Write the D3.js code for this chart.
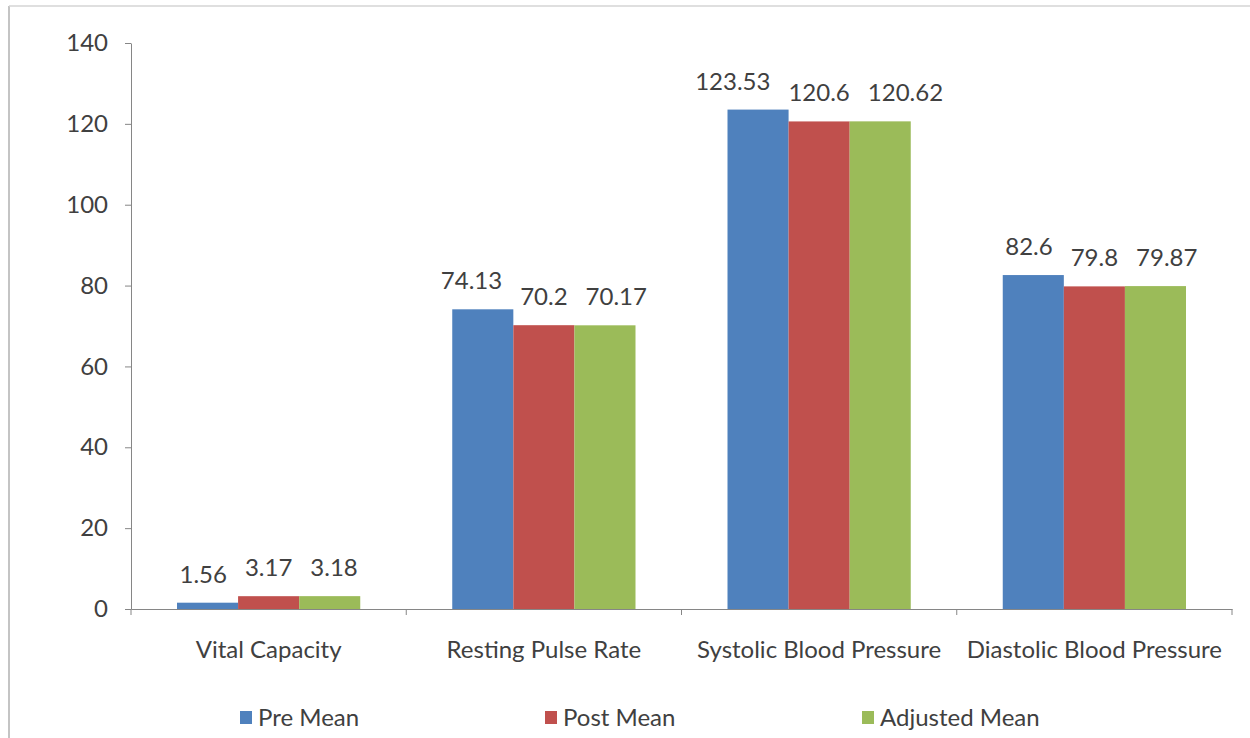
<!DOCTYPE html>
<html>
<head>
<meta charset="utf-8">
<script src="https://cdn.jsdelivr.net/npm/d3@7"></script>
<style>
  body { margin: 0; background: #fff; }
  text { font-family: Lato, "Open Sans", sans-serif; fill: #404040; }
</style>
</head>
<body>
<div id="plot"></div>
<script>
// data
const categories = ["Vital Capacity", "Resting Pulse Rate", "Systolic Blood Pressure", "Diastolic Blood Pressure"];
const seriesNames = ["Pre Mean", "Post Mean", "Adjusted Mean"];
const preMean = [1.56, 74.13, 123.53, 82.6];
const postMean = [3.17, 70.2, 120.6, 79.8];
const adjustedMean = [3.18, 70.17, 120.62, 79.87];
const yTicks = [0, 20, 40, 60, 80, 100, 120, 140];
const colors = ["#4F81BD", "#C0504D", "#9BBB59"];

const W = 1250, H = 738;
const margin = {top: 43, right: 18, bottom: 129, left: 131};
const width = W - margin.left - margin.right;
const height = H - margin.top - margin.bottom;
const fs = "24px";

const svgRoot = d3.select("#plot").append("svg")
  .attr("width", W).attr("height", H);

// frame lines of the original picture
svgRoot.append("line").attr("x1", 9).attr("x2", 9).attr("y1", 6).attr("y2", H)
  .attr("stroke", "#c4c4c4").attr("stroke-width", 2);
svgRoot.append("line").attr("x1", 9).attr("x2", W).attr("y1", 6).attr("y2", 6)
  .attr("stroke", "#d4d4d4").attr("stroke-width", 1.5);

const svg = svgRoot.append("g")
  .attr("transform", "translate(" + margin.left + "," + margin.top + ")");

const y = d3.scaleLinear().domain([0, 140]).range([height, 0]);
const x0 = d3.scaleBand().domain(categories).range([0, width]);
const gap = 46;
const x1 = d3.scaleBand().domain(seriesNames).range([gap, x0.bandwidth() - gap]);

// y axis
const yAxis = svg.append("g")
  .call(d3.axisLeft(y).tickValues(yTicks).tickSize(6).tickPadding(17).tickSizeOuter(0));
yAxis.select(".domain").attr("stroke", "#868686");
yAxis.selectAll(".tick line").attr("stroke", "#868686");
yAxis.selectAll(".tick text").style("font-size", fs).attr("fill", "#404040");

// x axis
const xAxis = svg.append("g")
  .attr("transform", "translate(0," + height + ")")
  .call(d3.axisBottom(x0).tickSize(0).tickPadding(32));
xAxis.select(".domain").attr("stroke", "#868686");
xAxis.selectAll(".tick text").style("font-size", fs).attr("fill", "#404040");
// boundary ticks between categories
svg.selectAll("xticks")
  .data(d3.range(categories.length + 1))
  .enter()
  .append("line")
    .attr("x1", i => i * x0.step())
    .attr("x2", i => i * x0.step())
    .attr("y1", height)
    .attr("y2", height + 6)
    .attr("stroke", "#868686");

const series = [preMean, postMean, adjustedMean];
const rows = [];
series.forEach((vals, s) => {
  vals.forEach((v, c) => rows.push({s: s, c: c, v: v}));
});

svg.selectAll("bars")
  .data(rows)
  .enter()
  .append("rect")
    .attr("x", d => x0(categories[d.c]) + x1(seriesNames[d.s]))
    .attr("y", d => y(d.v))
    .attr("width", x1.bandwidth())
    .attr("height", d => height - y(d.v))
    .style("fill", d => colors[d.s]);

const labels = svg.selectAll("labels")
  .data(rows)
  .enter()
  .append("text")
    .attr("x", d => x0(categories[d.c]) + x1(seriesNames[d.s]) + x1.bandwidth() / 2)
    .attr("y", d => y(d.v) - 20)
    .attr("text-anchor", "middle")
    .style("font-size", fs)
    .text(d => d.v);

// push the outer labels of a group away from the middle one when they crowd it
const minGap = 18;
labels.each(function(d) { d.w = this.getComputedTextLength(); d.cx = +this.getAttribute("x"); });
categories.forEach((c, ci) => {
  const g = rows.filter(r => r.c === ci).sort((a, b) => a.s - b.s);
  const mid = g[1];
  const leftLimit = mid.cx - mid.w / 2 - minGap;
  if (g[0].cx + g[0].w / 2 > leftLimit) g[0].cx = leftLimit - g[0].w / 2;
  const rightLimit = mid.cx + mid.w / 2 + minGap;
  if (g[2].cx - g[2].w / 2 < rightLimit) g[2].cx = rightLimit + g[2].w / 2;
});
labels.attr("x", d => d.cx);

// legend
const legendX = [240, 545, 862];
const legend = svgRoot.selectAll("legend")
  .data(seriesNames)
  .enter()
  .append("g")
    .attr("transform", (d, i) => "translate(" + legendX[i] + ",718)");
legend.append("rect")
  .attr("x", 0).attr("y", -7).attr("width", 12).attr("height", 13)
  .style("fill", (d, i) => colors[i]);
legend.append("text")
  .attr("x", 18).attr("y", 8)
  .style("font-size", fs)
  .text(d => d);
</script>
</body>
</html>
